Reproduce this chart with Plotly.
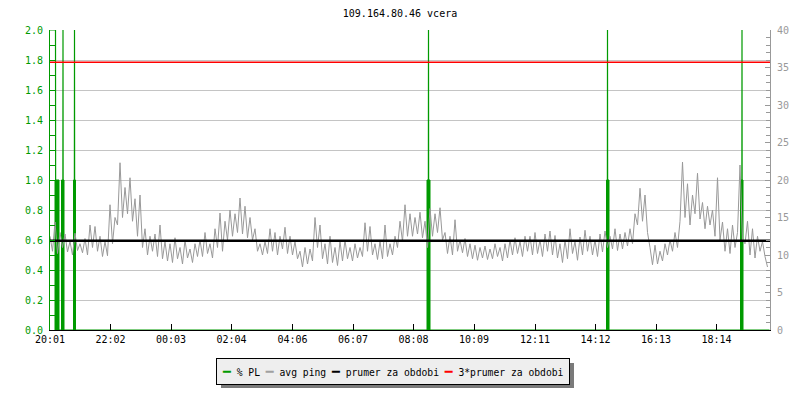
import plotly.graph_objects as go

title_text = "109.164.80.46 vcera"

# x axis: minutes since 20:01
tick_minutes = [0, 121, 242, 363, 485, 606, 727, 848, 970, 1091, 1212, 1333]
tick_labels = ["20:01", "22:02", "00:03", "02:04", "04:06", "06:07",
               "08:08", "10:09", "12:11", "14:12", "16:13", "18:14"]

# avg ping [ms], one sample every 5 minutes (12 per hour)
ping_step = 5
ping_ms = [
    12.5, 10.5, 14.4, 10.2, 13.0, 11.0, 12.8, 10.4, 11.8, 10.0, 12.9, 10.6,
    11.5, 10.3, 12.2, 10.0, 14.0, 11.0, 13.8, 10.5, 12.5, 9.8, 11.8, 9.9,
    16.7, 11.5, 15.0, 14.0, 22.3, 15.0, 19.0, 15.5, 20.3, 14.5, 17.5, 12.5,
    18.0, 11.0, 13.5, 10.0, 12.5, 10.5, 12.8, 9.8, 14.0, 9.5, 11.8, 9.2,
    11.5, 9.0, 12.3, 9.5, 11.0, 8.8, 12.0, 9.6, 10.8, 9.0, 11.5, 9.8,
    12.0, 9.8, 13.0, 10.2, 11.5, 9.6, 13.5, 11.0, 15.6, 10.5, 14.5, 12.0,
    16.0, 12.5, 15.5, 13.0, 17.6, 12.8, 16.5, 12.3, 15.0, 12.0, 13.5, 10.5,
    11.5, 10.0, 11.8, 10.2, 13.5, 10.5, 13.0, 10.0, 12.5, 10.8, 13.7, 10.2,
    12.5, 10.0, 11.8, 9.5, 10.5, 8.4, 11.0, 8.8, 10.8, 9.2, 15.0, 11.0,
    14.0, 9.5, 11.5, 8.8, 12.5, 9.0, 11.0, 8.6, 11.8, 9.2, 12.0, 9.5,
    11.0, 9.2, 11.5, 9.6, 11.0, 9.8, 14.3, 10.5, 13.8, 10.0, 11.5, 9.4,
    11.8, 9.5, 14.0, 9.8, 11.5, 10.0, 12.5, 11.0, 14.5, 11.8, 16.7, 12.5,
    15.5, 12.5, 15.0, 12.8, 15.7, 12.3, 14.5, 11.0, 16.2, 12.5, 15.5, 13.0,
    16.3, 12.0, 13.0, 10.2, 12.5, 10.0, 14.7, 10.5, 12.0, 10.3, 12.2, 9.8,
    11.5, 9.5, 11.3, 9.3, 11.0, 9.6, 11.2, 9.4, 10.8, 9.5, 11.5, 9.8,
    11.0, 9.2, 11.5, 9.6, 12.0, 10.0, 12.3, 10.2, 11.8, 9.8, 12.5, 10.5,
    12.5, 10.0, 13.0, 10.2, 12.0, 9.8, 12.8, 10.5, 13.2, 10.0, 12.6, 9.6,
    11.5, 9.0, 12.0, 9.5, 13.5, 10.2, 11.8, 9.3, 12.4, 10.0, 13.3, 10.5,
    12.5, 10.0, 12.0, 9.8, 12.8, 10.4, 13.2, 11.0, 12.5, 10.8, 13.5, 10.6,
    12.8, 10.8, 13.0, 11.2, 13.5, 11.5, 15.5, 14.0, 18.9, 14.5, 18.0, 13.0,
    11.0, 8.7, 11.3, 8.8, 10.5, 9.2, 11.5, 10.0, 12.0, 10.5, 13.0, 11.0,
    14.5, 22.4, 15.0, 19.5, 14.0, 18.0, 15.5, 20.9, 14.8, 17.0, 13.5, 16.5,
    14.0, 16.0, 12.5, 20.3, 12.0, 14.4, 10.5, 13.5, 10.2, 14.0, 11.0, 13.0,
    22.0, 12.0, 11.5, 14.5, 10.0, 13.5, 9.6, 12.5, 10.5, 11.8, 9.8, 8.4,
]
ping_minutes = [i * ping_step for i in range(len(ping_ms))]

# % PL: short loss events (spikes reaching the top of the scale)
pl_minutes = [0, 11, 11.5, 25.5, 26, 26.5, 48.5, 49, 49.5, 756.5, 757, 757.5,
              1114.5, 1115, 1115.5, 1383.5, 1384, 1384.5, 1439]
pl_values = [2.0, 2.0, 0, 0, 2.0, 0, 0, 2.0, 0, 0, 2.0, 0,
             0, 2.0, 0, 0, 2.0, 0, 0]
# % PL blocks at 1.0
pl_block_minutes = [10, 10, 18, 18, None, 23, 23, 28, 28, None, 47, 47, 51, 51, None,
                    754, 754, 760, 760, None, 1113, 1113, 1118, 1118, None,
                    1381, 1381, 1386, 1386]
pl_block_values = [0, 1, 1, 0, None, 0, 1, 1, 0, None, 0, 1, 1, 0, None,
                   0, 1, 1, 0, None, 0, 1, 1, 0, None, 0, 1, 1, 0]

period_minutes = [0, 1440]
mean_ping = 11.9
mean_line = [mean_ping, mean_ping]
triple_mean_line = [3 * mean_ping, 3 * mean_ping]

legend_names = ["% PL", "avg ping", "prumer za obdobi", "3*prumer za obdobi"]

GREEN = "#009a00"
GRAY = "#999999"
FONT = "DejaVu Sans Mono"
legend_colors = [GREEN, "#a0a0a0", "#000000", "#ff0000"]

fig = go.Figure()
fig.add_trace(go.Scatter(x=ping_minutes, y=ping_ms, mode="lines", name=legend_names[1],
                         line=dict(color=GRAY, width=1), yaxis="y2",
                         showlegend=False))
fig.add_trace(go.Scatter(x=pl_block_minutes, y=pl_block_values, mode="lines",
                         fill="toself", fillcolor=GREEN, line=dict(color=GREEN, width=1),
                         showlegend=False, connectgaps=False))
fig.add_trace(go.Scatter(x=pl_minutes, y=pl_values, mode="lines", name=legend_names[0],
                         line=dict(color=GREEN, width=1.2), showlegend=False))
fig.add_trace(go.Scatter(x=period_minutes, y=mean_line, mode="lines", name=legend_names[2],
                         line=dict(color="#000000", width=2.5), yaxis="y2",
                         showlegend=False))
fig.add_trace(go.Scatter(x=period_minutes, y=triple_mean_line, mode="lines",
                         name=legend_names[3], line=dict(color="#ff0000", width=1.5),
                         yaxis="y2", showlegend=False))

# legend box with drop shadow
fig.add_shape(type="rect", xref="paper", yref="paper",
              x0=(221 - 50) / 720, x1=(574 - 50) / 720,
              y0=(330 - 388) / 300, y1=(330 - 363) / 300,
              fillcolor="#7a7a7a", line=dict(width=0), layer="below")
sym = "━"
legend_text = " ".join(
    f"<span style='color:{c};font-size:13px'>{sym}</span> {n}"
    for n, c in zip(legend_names, legend_colors))
fig.add_annotation(x=0.477, y=-0.138, xref="paper", yref="paper", text=legend_text,
                   showarrow=False, xanchor="center", yanchor="middle",
                   bgcolor="#eeeeee", bordercolor="#000000",
                   borderwidth=1, borderpad=5,
                   font=dict(family=FONT, size=9.7, color="#000000"))

fig.update_layout(
    width=800, height=400,
    margin=dict(l=50, r=30, t=30, b=70, autoexpand=False),
    paper_bgcolor="white", plot_bgcolor="white",
    showlegend=False,
    font=dict(family=FONT, size=10, color="black"),
    title=dict(text=title_text, x=0.5, xanchor="center", y=1 - 13 / 400, yanchor="middle",
               yref="container", xref="container", font=dict(family=FONT, size=10)),
    xaxis=dict(range=[0, 1440], tickvals=tick_minutes, ticktext=tick_labels,
               showgrid=False, zeroline=False, showline=True, linecolor="black",
               linewidth=1, ticks="inside", ticklen=6, tickcolor="black",
               tickfont=dict(family=FONT, size=10, color="black")),
    yaxis=dict(range=[0, 2], dtick=0.2, tickformat=".1f", showgrid=True,
               gridcolor="#c4c4c4", gridwidth=1, zeroline=False, showline=True,
               linecolor=GREEN, linewidth=1, ticks="inside", ticklen=5, tickcolor=GREEN,
               tickfont=dict(family=FONT, size=10, color=GREEN), ticklabelstandoff=4,
               minor=dict(dtick=0.1, ticks="inside", ticklen=5, tickcolor=GREEN,
                          showgrid=False)),
    yaxis2=dict(range=[0, 40], dtick=5, overlaying="y", side="right", showgrid=False,
                zeroline=False, showline=True, linecolor=GRAY, linewidth=1,
                ticks="inside", ticklen=5, tickcolor=GRAY,
                tickfont=dict(family=FONT, size=10, color=GRAY), ticklabelstandoff=4,
                minor=dict(dtick=1, ticks="inside", ticklen=4, tickcolor=GRAY,
                           showgrid=False)),
)

fig.write_html("out.html", config={"displayModeBar": False},
               post_script="document.body.style.margin='0px';")
